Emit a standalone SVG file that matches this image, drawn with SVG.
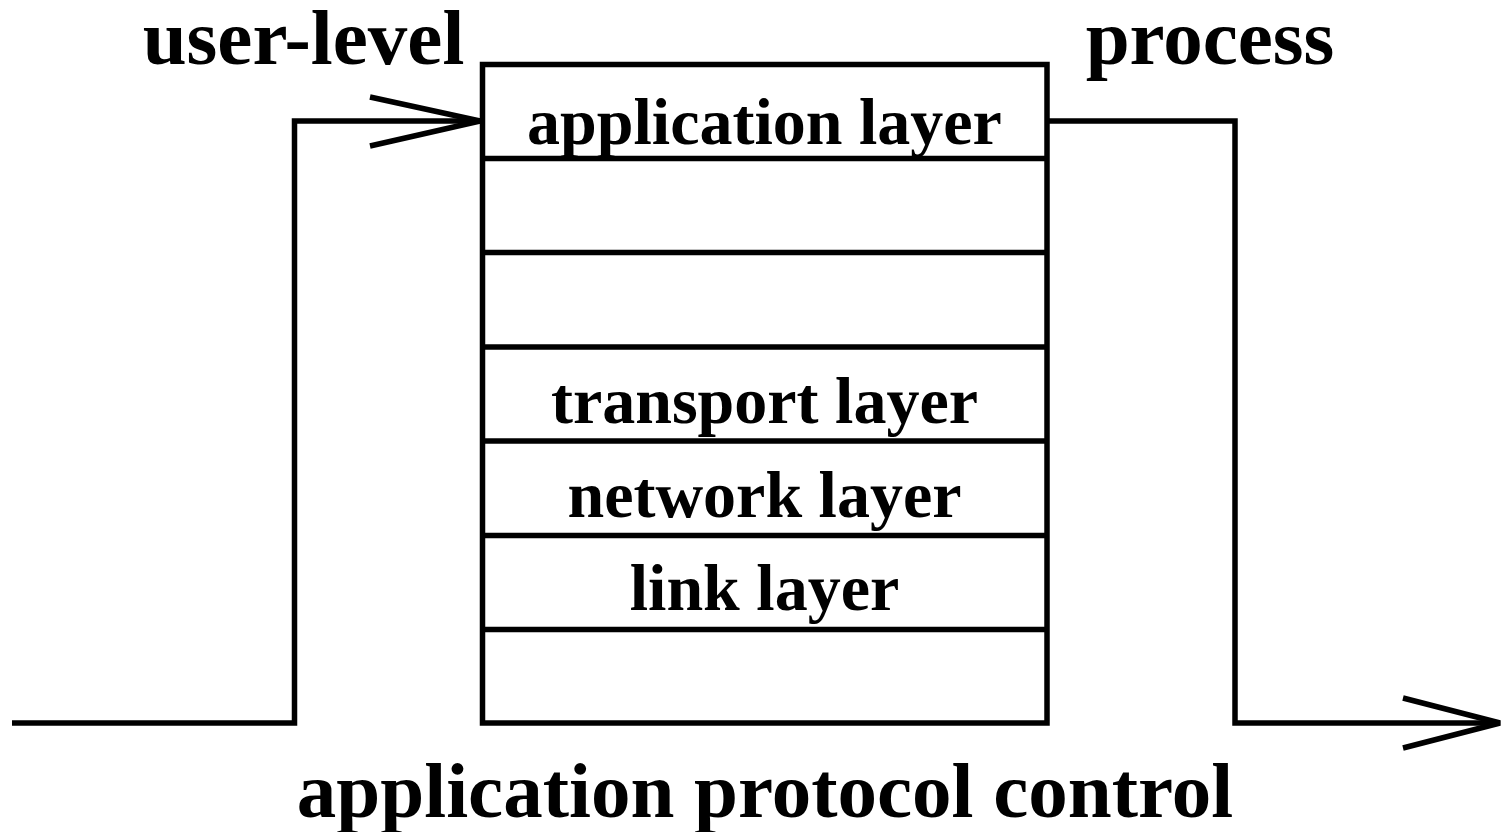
<svg xmlns="http://www.w3.org/2000/svg" width="1503" height="832" viewBox="0 0 1503 832">
  <style>
    .ln { fill: none; stroke: #000; stroke-width: 5.5; stroke-linecap: butt; stroke-linejoin: miter; }
    .lbl { font-family: "Liberation Serif", "Times New Roman", serif; font-weight: bold; fill: #000; text-anchor: middle; }
    .big { font-size: 79px; }
    .row { font-size: 66px; }
  </style>
  <rect width="1503" height="832" fill="#fff"/>

  <!-- protocol stack -->
  <g id="stack">
    <rect class="ln" x="482.5" y="64.5" width="564.5" height="658.5"/>
    <line class="ln" x1="482.5" y1="158.5" x2="1047" y2="158.5"/>
    <line class="ln" x1="482.5" y1="252.5" x2="1047" y2="252.5"/>
    <line class="ln" x1="482.5" y1="347" x2="1047" y2="347"/>
    <line class="ln" x1="482.5" y1="441" x2="1047" y2="441"/>
    <line class="ln" x1="482.5" y1="535.5" x2="1047" y2="535.5"/>
    <line class="ln" x1="482.5" y1="629.5" x2="1047" y2="629.5"/>
  </g>
  <g id="layer-application"><text class="lbl row" x="764.5" y="144">application layer</text></g>
  <g id="layer-transport"><text class="lbl row" x="764.5" y="423">transport layer</text></g>
  <g id="layer-network"><text class="lbl row" x="764.5" y="517">network layer</text></g>
  <g id="layer-link"><text class="lbl row" x="764.5" y="610">link layer</text></g>

  <!-- surrounding labels -->
  <g id="label-user-level"><text class="lbl big" x="303.5" y="64">user-level</text></g>
  <g id="label-process"><text class="lbl big" x="1210" y="64">process</text></g>
  <g id="label-control"><text class="lbl big" x="765" y="817">application protocol control</text></g>

  <!-- data path in and out of the stack -->
  <g id="connectors">
    <polyline class="ln" points="12,723 294.5,723 294.5,121 480,121"/>
    <polyline class="ln" points="370,97 480,121 370,146"/>
    <polyline class="ln" points="1047,121 1235,121 1235,723 1500,723"/>
    <polyline class="ln" points="1403,698 1500,723 1403,748"/>
  </g>
</svg>
